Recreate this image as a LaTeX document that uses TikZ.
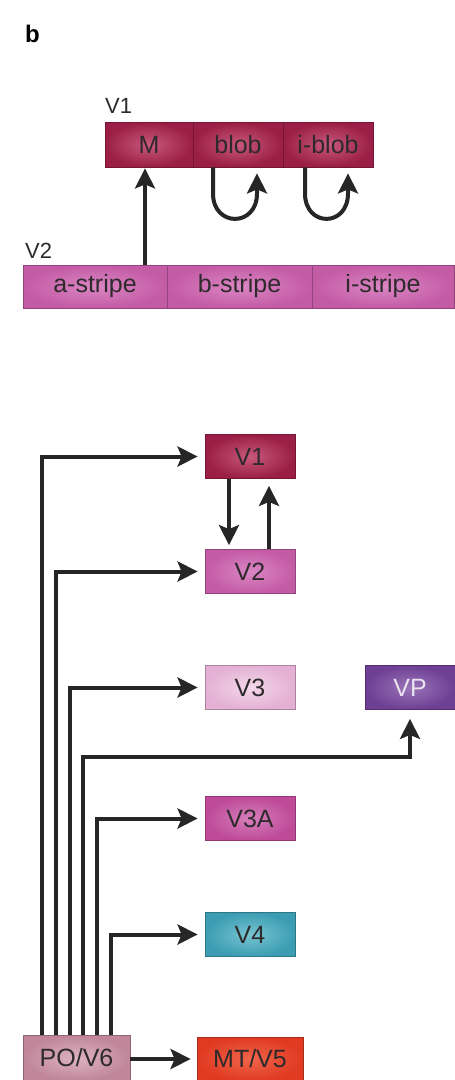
\documentclass[tikz,border=0pt]{standalone}
\usepackage{fontspec}
\setmainfont{Liberation Sans}
\usetikzlibrary{arrows.meta}
\definecolor{txt}{HTML}{2E2A2C}
\definecolor{ln}{HTML}{262626}
\definecolor{vo}{HTML}{9A1E45}\definecolor{vi}{HTML}{C9587C}
\definecolor{wo}{HTML}{C45BA5}\definecolor{wi}{HTML}{DA86C4}
\definecolor{to}{HTML}{E4B0D4}\definecolor{ti}{HTML}{F3D8EA}
\definecolor{po}{HTML}{6E3F93}\definecolor{pi}{HTML}{9A74B9}
\definecolor{ao}{HTML}{BE4A98}\definecolor{ai}{HTML}{D67EBB}
\definecolor{fo}{HTML}{3C9DB2}\definecolor{fi}{HTML}{77C4D2}
\definecolor{so}{HTML}{C0869A}\definecolor{si}{HTML}{DDB3C1}
\definecolor{mo}{HTML}{E03A22}\definecolor{mi}{HTML}{F0654A}
\tikzset{
  area/.style 2 args={shade, inner color=#2, outer color=#1, draw=#1!75!black,
    line width=0.8pt, inner sep=0pt, minimum height=44pt, minimum width=90pt,
    text=txt, font=\fontsize{25}{30}\selectfont},
  lbl/.style={anchor=base west, inner sep=0pt, text=txt, font=\fontsize{22}{26}\selectfont},
  arr/.style={draw=ln, line width=4pt, -{Stealth[length=20pt,width=20pt,inset=4pt]}},
  ln/.style={draw=ln, line width=4pt}
}
\begin{document}
\begin{tikzpicture}[x=1pt,y=-1pt]
\fill[white] (0,0) rectangle (455,1080);
\useasboundingbox (0,0) rectangle (455,1080);
% panel label
\node[anchor=base west, inner sep=0pt, font=\fontsize{24}{28}\selectfont\bfseries] (lb) at (25,42) {b};
% ---- top: compartments ----
\node[lbl] (lv1) at (105,113) {V1};
\node[lbl] (lv2) at (25,258) {V2};
\node[area={vo}{vi}, minimum width=88pt, minimum height=45pt] (M) at (149,144.5) {M};
\node[area={vo}{vi}, minimum width=90pt, minimum height=45pt] (blob) at (238,144.5) {blob};
\node[area={vo}{vi}, minimum width=90pt, minimum height=45pt] (iblob) at (328,144.5) {i-blob};
\node[area={wo}{wi}, minimum width=144pt, minimum height=43pt] (as) at (95,286.5) {a-stripe};
\node[area={wo}{wi}, minimum width=145pt, minimum height=43pt] (bs) at (239.5,286.5) {b-stripe};
\node[area={wo}{wi}, minimum width=142pt, minimum height=43pt] (is) at (383,286.5) {i-stripe};
\draw[arr, shorten >=1pt] ([xshift=-4pt]M.south |- as.north) -- ([xshift=-4pt]M.south);
\draw[arr, shorten >=6pt] ([xshift=-25pt]blob.south)
  -- ([xshift=-25pt,yshift=-26pt]blob.south)
  .. controls ([xshift=-25pt,yshift=-60pt]blob.south) and ([xshift=19pt,yshift=-60pt]blob.south)
  .. ([xshift=19pt,yshift=-26pt]blob.south) -- ([xshift=19pt]blob.south);
\draw[arr, shorten >=6pt] ([xshift=-23pt]iblob.south)
  -- ([xshift=-23pt,yshift=-26pt]iblob.south)
  .. controls ([xshift=-23pt,yshift=-60pt]iblob.south) and ([xshift=20pt,yshift=-60pt]iblob.south)
  .. ([xshift=20pt,yshift=-26pt]iblob.south) -- ([xshift=20pt]iblob.south);
% ---- bottom: areas ----
\node[area={vo}{vi}] (V1) at (250,456.5) {V1};
\node[area={wo}{wi}] (V2) at (250,571.5) {V2};
\node[area={to}{ti}] (V3) at (250,687.5) {V3};
\node[area={po}{pi}, text=white!85!po] (VP) at (410,687.5) {VP};
\node[area={ao}{ai}] (V3A) at (250,818.5) {V3A};
\node[area={fo}{fi}] (V4) at (250,934.5) {V4};
\node[area={so}{si}, minimum width=107pt, minimum height=45pt] (PO) at (76.5,1058) {PO/V6};
\node[area={mo}{mi}, minimum width=106pt, minimum height=44pt] (MT) at (250,1059) {MT/V5};
\coordinate (vpc) at (410,757);
\draw[arr, shorten >=7pt] ([xshift=-34.5pt]PO.north) |- (V1.west);
\draw[arr, shorten >=7pt] ([xshift=-20.5pt]PO.north) |- (V2.west);
\draw[arr, shorten >=7pt] ([xshift=-6.5pt]PO.north) |- (V3.west);
\draw[arr, shorten >=9pt] ([xshift=6.5pt]PO.north) |- (vpc) -- (VP.south);
\draw[arr, shorten >=7pt] ([xshift=20.5pt]PO.north) |- (V3A.west);
\draw[arr, shorten >=7pt] ([xshift=34.5pt]PO.north) |- (V4.west);
\draw[arr, shorten >=6pt] (PO.east |- MT.west) -- (MT.west);
\draw[arr, shorten >=4pt] ([xshift=-21pt]V1.south) -- ([xshift=-21pt]V2.north);
\draw[arr, shorten >=7pt] ([xshift=19pt]V2.north) -- ([xshift=19pt]V1.south);
\end{tikzpicture}
\end{document}
